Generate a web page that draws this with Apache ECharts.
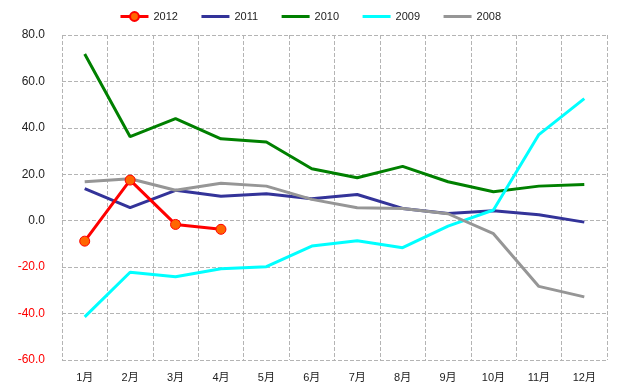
<!DOCTYPE html>
<html>
<head>
<meta charset="utf-8">
<script src="https://cdn.jsdelivr.net/npm/echarts@6/dist/echarts.min.js"></script>
<style>html,body{margin:0;padding:0;background:#fff;}#c{width:620px;height:392px;}</style>
</head>
<body>
<div id="c"></div>
<script>
const categories = ['1月','2月','3月','4月','5月','6月','7月','8月','9月','10月','11月','12月'];
const s2012 = [-8.8, 17.5, -1.6, -3.7];
const s2011 = [13.8, 5.6, 13.1, 10.5, 11.6, 9.5, 11.3, 5.3, 3.1, 4.3, 2.6, -0.6];
const s2010 = [71.8, 36.2, 44.0, 35.3, 33.9, 22.4, 18.5, 23.4, 16.8, 12.5, 14.9, 15.6];
const s2009 = [-41.4, -22.2, -24.1, -20.7, -19.8, -10.9, -8.6, -11.6, -2.3, 4.6, 37.1, 52.6];
const s2008 = [16.8, 18.1, 13.1, 16.1, 14.9, 9.2, 5.6, 5.3, 3.0, -5.6, -28.3, -32.8];
const legendNames = ['2012','2011','2010','2009','2008'];
const yTicks = {min: -60, max: 80, interval: 20};

const FONT = '"Liberation Sans", Arial, "Noto Sans CJK SC", sans-serif';
const chart = echarts.init(document.getElementById('c'), null, {renderer: 'canvas'});
function plain(name, data, color) {
  return {name, type: 'line', data, symbol: 'none', showSymbol: false,
    lineStyle: {color, width: 3}, itemStyle: {color}, animation: false};
}
chart.setOption({
  animation: false,
  textStyle: {fontFamily: FONT},
  legend: {
    top: 6, left: 'center', itemWidth: 28, itemHeight: 11, itemGap: 22,
    lineStyle: {width: 3},
    textStyle: {fontFamily: FONT, fontSize: 11, color: '#222'},
    data: legendNames.map((n, i) => i === 0 ? {name: n} :
      {name: n, itemStyle: {opacity: 0, color: 'rgba(0,0,0,0)', borderWidth: 0}})
  },
  grid: {left: 62, right: 13, top: 35, bottom: 32, containLabel: false},
  xAxis: {
    type: 'category', data: categories, boundaryGap: true,
    axisLine: {show: false}, axisTick: {show: false},
    axisLabel: {margin: 12, fontSize: 11, color: '#222', fontFamily: FONT},
    splitLine: {show: true, lineStyle: {type: 'dashed', color: '#b4b4b4', width: 1}}
  },
  yAxis: {
    type: 'value', min: yTicks.min, max: yTicks.max, interval: yTicks.interval,
    axisLine: {show: false}, axisTick: {show: false},
    axisLabel: {margin: 17, fontSize: 12, fontFamily: FONT,
      formatter: v => v.toFixed(1),
      color: v => (Number(v) < 0 ? '#ff0000' : '#222')},
    splitLine: {show: true, lineStyle: {type: 'dashed', color: '#b4b4b4', width: 1}}
  },
  series: [
    {name: '2012', type: 'line', data: s2012, symbol: 'circle', symbolSize: 10,
     lineStyle: {color: '#ff0000', width: 3},
     itemStyle: {color: '#ff6600', borderColor: '#ff0000', borderWidth: 1}, z: 10},
    plain('2011', s2011, '#333399'),
    plain('2010', s2010, '#008000'),
    plain('2009', s2009, '#00ffff'),
    plain('2008', s2008, '#969696')
  ]
});
</script>
</body>
</html>
